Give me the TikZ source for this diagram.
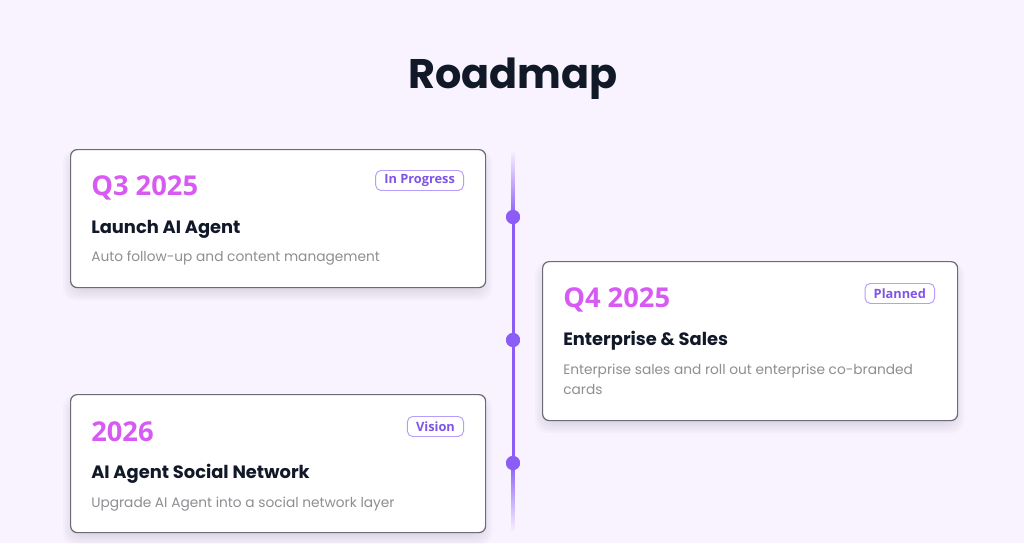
\documentclass[tikz,border=0pt]{standalone}
\usepackage{fontspec}
\setmainfont{Poppins}
\newfontfamily\numfont{Open Sans}
\usetikzlibrary{calc}
\definecolor{bg}{HTML}{F8F3FE}
\definecolor{ink}{HTML}{111827}
\definecolor{qcol}{HTML}{D75BF3}
\definecolor{violet}{HTML}{8B5CF6}
\definecolor{badgeline}{HTML}{B69CFB}
\definecolor{badgetext}{HTML}{7F55E8}
\definecolor{desc}{HTML}{8E8E93}
\definecolor{cardline}{HTML}{6B6B75}
\tikzset{
  card/.style={draw=cardline, line width=0.9pt, fill=white, rounded corners=5pt,
    minimum width=415*0.75pt, minimum height=138*0.75pt, anchor=north west, inner sep=0pt},
  cardshadow/.style={fill=black!70!violet, opacity=0.018, rounded corners=9pt, draw=none},
  quarter/.style={anchor=base west, inner sep=0pt, text=qcol, font=\numfont\bfseries\fontsize{20.5pt}{24pt}\selectfont},
  heading/.style={anchor=base west, inner sep=0pt, text=ink, font=\bfseries\fontsize{13.4pt}{16pt}\selectfont},
  descr/.style={anchor=base west, inner sep=0pt, text=desc, font=\fontsize{10.3pt}{15pt}\selectfont},
  badge/.style={draw=badgeline, line width=0.7pt, rounded corners=4pt, anchor=north east,
    minimum height=20*0.75pt, inner xsep=6.5pt, inner ysep=0pt, text=badgetext,
    font=\numfont\bfseries\fontsize{9.6pt}{10pt}\selectfont},
  dot/.style={circle, fill=violet, minimum size=14*0.75pt, inner sep=0pt},
  tline/.style={draw=violet, line width=3*0.75pt},
}
\begin{document}
\begin{tikzpicture}[x=0.75pt,y=-0.75pt]
\fill[bg] (0,0) rectangle (1024,543);
\useasboundingbox (0,0) rectangle (1024,543);

% title
\node[text=ink, font=\bfseries\fontsize{31pt}{36pt}\selectfont, anchor=base] (title) at (513,88) {Roadmap};

% timeline
\coordinate (ttop) at (513,150);
\coordinate (tbot) at (513,532);
\node[dot] (d1) at (513,217) {};
\node[dot] (d2) at (513,340) {};
\node[dot] (d3) at (513,463) {};
\shade[top color=bg, bottom color=violet] ($(ttop)+(-1.5,0)$) rectangle ($(d1)+(1.5,0)$);
\shade[top color=violet, bottom color=bg] ($(d3)+(-1.5,0)$) rectangle ($(tbot)+(1.5,0)$);
\draw[tline] (d1) -- (d2);
\draw[tline] (d2) -- (d3);
\node[dot] at (d1) {};
\node[dot] at (d2) {};
\node[dot] at (d3) {};

% shadows
\foreach \cx/\cy/\h in {70/149/138, 542/261/159, 70/394/138}{
  \foreach \e in {1,3,5,7,9,11}{
    \fill[cardshadow] (\cx-\e+4,\cy-\e+12) rectangle (\cx+415+\e-4,\cy+\h+\e+2);
  }
}

% card 1
\node[card] (c1) at (70,149) {};
\node[quarter] (q1) at (91,195) {Q3 2025};
\node[badge] (b1) at (464,170) {In Progress};
\node[heading] (h1) at (91,233) {Launch AI Agent};
\node[descr] (t1) at (91,261) {Auto follow-up and content management};

% card 2
\node[card, minimum height=159*0.75pt] (c2) at (542,261) {};
\node[quarter] (q2) at (563,307) {Q4 2025};
\node[badge] (b2) at (935,283) {Planned};
\node[heading] (h2) at (563,345) {Enterprise \& Sales};
\node[descr] (t2) at (563,374) {Enterprise sales and roll out enterprise co-branded};
\node[descr] (t2b) at (563,394) {cards};

% card 3
\node[card] (c3) at (70,394) {};
\node[quarter] (q3) at (91,441) {2026};
\node[badge] (b3) at (464,416) {Vision};
\node[heading] (h3) at (91,478) {AI Agent Social Network};
\node[descr] (t3) at (91,507) {Upgrade AI Agent into a social network layer};
\end{tikzpicture}
\end{document}
